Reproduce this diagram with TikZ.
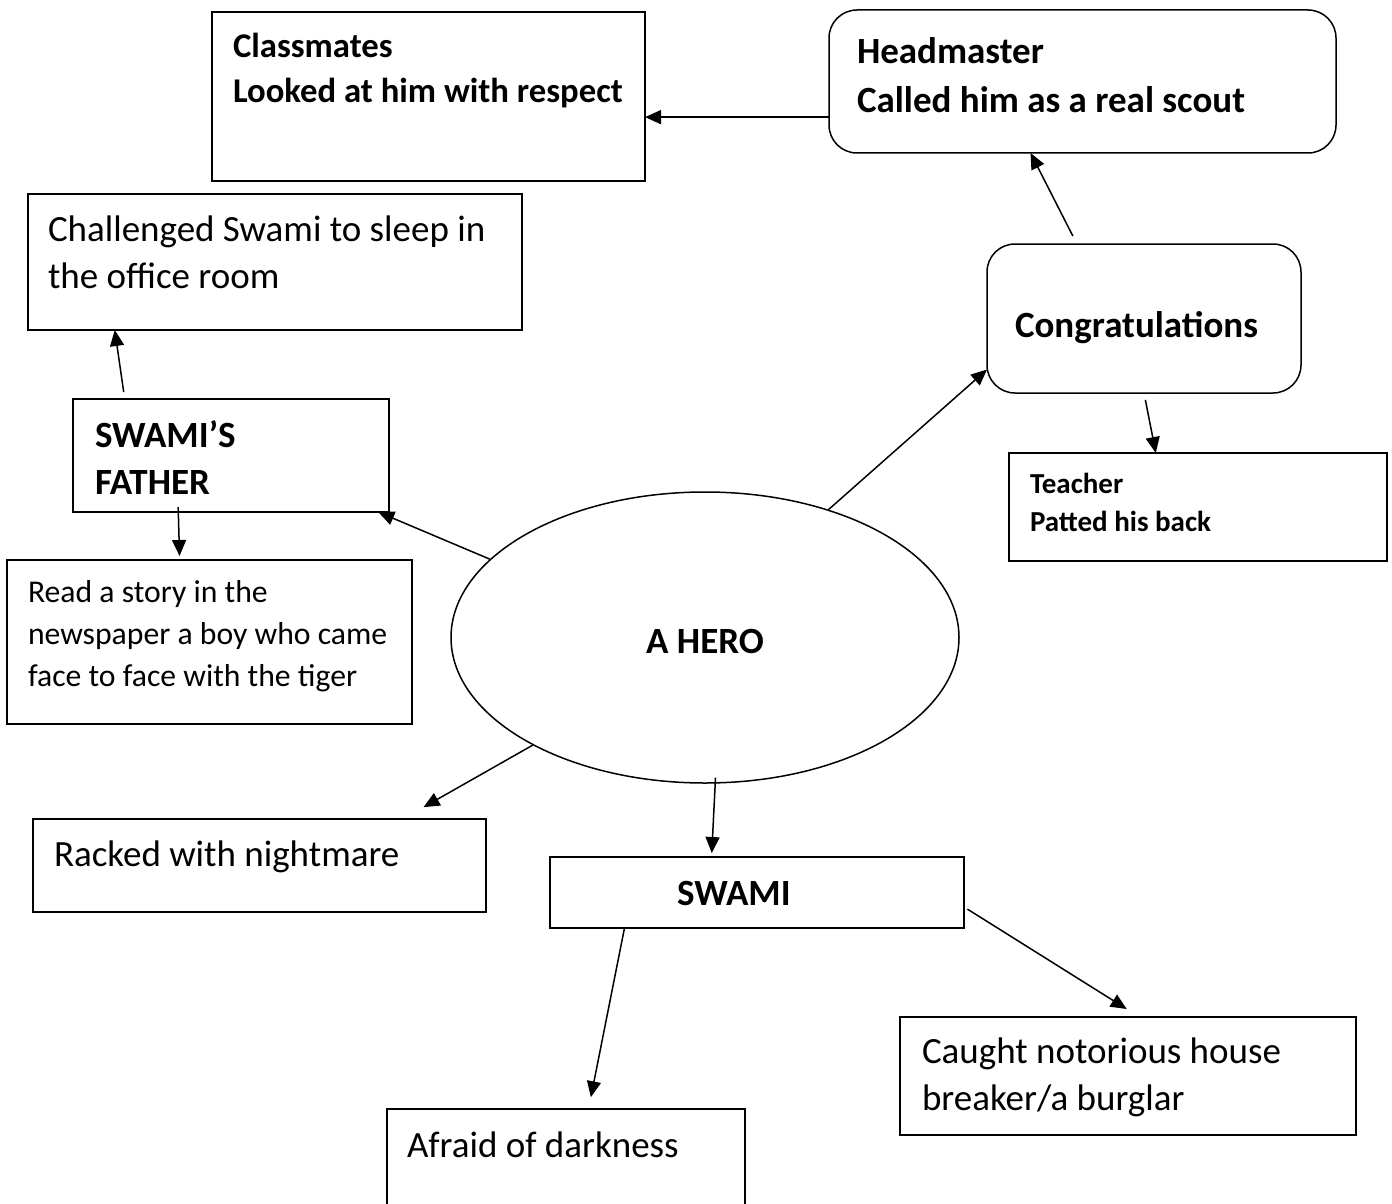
\documentclass[tikz,border=0pt]{standalone}
\usepackage{fontspec}
\setmainfont{Carlito}
\usetikzlibrary{arrows.meta,shapes.geometric}
\tikzset{>={Triangle[length=16pt,width=14pt]},
  box/.style={draw,rectangle,anchor=north west,align=flush left,inner sep=0pt,outer sep=0pt},
  roundbox/.style={box,rounded corners=28pt},
  herobox/.style={draw,ellipse,minimum width=508pt,minimum height=291pt,inner sep=0pt},
  big/.style={font=\fontsize{37}{47}\selectfont},
  bigbf/.style={font=\fontsize{37}{48}\selectfont\bfseries},
  midbf/.style={font=\fontsize{34.7}{45}\selectfont\bfseries},
  small/.style={font=\fontsize{31.7}{42}\selectfont},
  smallbf/.style={font=\fontsize{29}{38}\selectfont\bfseries},
  link/.style={->}}

\begin{document}
\begin{tikzpicture}[x=1pt,y=-1pt,line width=1.5pt]
\useasboundingbox (0,0) rectangle (1392,1204);
% boxes
\node[box,midbf,minimum width=433pt,text width=391pt,text height=46pt,text depth=123pt] (classm) at (212,12) {Classmates\\Looked at him with respect};
\node[roundbox,bigbf,minimum width=507pt,text width=451pt,text height=54pt,text depth=89pt,font=\fontsize{37}{49}\selectfont\bfseries] (headm) at (829,10) {Headmaster\\Called him as a real scout};
\node[box,big,minimum width=494pt,text width=454pt,text height=47pt,text depth=89pt] (challenged) at (28,194) {Challenged Swami to sleep in\\the office room};
\node[roundbox,bigbf,minimum width=314pt,text width=258pt,text height=93pt,text depth=56pt] (congrats) at (987,244) {Congratulations};
\node[box,bigbf,minimum width=316pt,text width=272pt,text height=48pt,text depth=65pt,font=\fontsize{37}{47}\selectfont\bfseries] (father) at (73,399) {SWAMI’S\\FATHER};
\node[box,smallbf,minimum width=378pt,text width=336pt,text height=40pt,text depth=68pt] (teacher) at (1009,453) {Teacher\\Patted his back};
\node[box,small,minimum width=405pt,text width=363pt,text height=42pt,text depth=122pt] (read) at (7,560) {Read a story in the\\newspaper a boy who came\\face to face with the tiger};
\node[herobox,bigbf,text height=31pt,text depth=0pt] (hero) at (705,637.5) {A HERO};
\node[box,big,minimum width=453pt,text width=411pt,text height=47pt,text depth=46pt] (racked) at (33,819) {Racked with nightmare};
\node[box,bigbf,minimum width=414pt,text width=160pt,text height=48pt,text depth=23pt] (swami) at (550,857) {SWAMI};
\node[box,big,minimum width=456pt,text width=412pt,text height=46pt,text depth=72pt] (caught) at (900,1017) {Caught notorious house\\breaker/a burglar};
\node[box,big,minimum width=358pt,text width=318pt,text height=48pt,text depth=58pt] (afraid) at (387,1109) {Afraid of darkness};
% arrows
\draw[link] (headm.188) -- (headm.188 -| classm.east);
\draw[link,shorten <=9pt] (congrats.132) -- (headm.234);
\draw[link] (hero.46) -- (congrats.198);
\draw[link,shorten <=7pt] (congrats.south) -- (teacher.128);
\draw[link,shorten <=7pt] (father.152) -- (challenged.203);
\draw[link] (hero.160) -- (father.-21);
\draw[link,shorten <=-5pt,shorten >=4pt] (father.227) -- (read.110);
\draw[link,shorten >=24pt] (hero.212) -- (racked.18);
\draw[link,shorten <=-6pt,shorten >=4pt] (hero.274) -- (swami.142);
\draw[link,shorten >=12pt] (swami.195) -- (afraid.67);
\draw[link,shorten <=4pt,shorten >=15pt] (swami.-4) -- (caught.79);
\end{tikzpicture}
\end{document}
